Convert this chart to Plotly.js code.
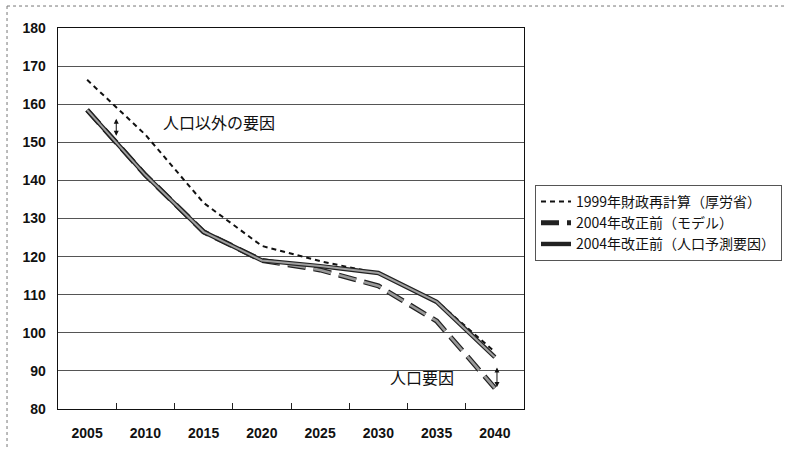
<!DOCTYPE html>
<html>
<head>
<meta charset="utf-8">
<script src="https://cdn.plot.ly/plotly-3.0.1.min.js"></script>
<style>html,body{margin:0;padding:0;background:#fff;}#chart{width:787px;height:450px;}</style>
</head>
<body>
<div id="chart"></div>
<script>
const years = ['2005', '2010', '2015', '2020', '2025', '2030', '2035', '2040'];
const recalc1999 = [166.4, 152.0, 134.1, 122.8, 118.8, 115.6, 108.3, 95.0];
const model2004 = [158.5, 141.4, 126.5, 119.0, 116.5, 112.3, 103.1, 85.5];
const popFactor2004 = [158.5, 141.4, 126.5, 119.0, 117.5, 115.7, 108.1, 93.6];
const seriesNames = ['1999年財政再計算（厚労省）', '2004年改正前（モデル）', '2004年改正前（人口予測要因）'];
const yTicks = [80, 90, 100, 110, 120, 130, 140, 150, 160, 170, 180];

const cjk = '"Noto Sans CJK JP", "Noto Sans", sans-serif';
const num = 'Arial, "Liberation Sans", sans-serif';

const traces = [
  {x: years, y: recalc1999, name: seriesNames[0], type: 'scatter', mode: 'lines',
   line: {color: '#111', width: 2, dash: '5px,4px'}, legendrank: 1},
  {x: years, y: model2004, name: seriesNames[1], type: 'scatter', mode: 'lines',
   line: {color: '#222', width: 5, dash: '18px,8px'}, legendrank: 2},
  {x: years, y: model2004, name: seriesNames[1], type: 'scatter', mode: 'lines', showlegend: false,
   line: {color: '#999', width: 2.6, dash: '18px,8px'}, hoverinfo: 'skip'},
  {x: years, y: popFactor2004, name: seriesNames[2], type: 'scatter', mode: 'lines',
   line: {color: '#222', width: 4.4}, legendrank: 3},
  {x: years, y: popFactor2004, name: seriesNames[2], type: 'scatter', mode: 'lines', showlegend: false,
   line: {color: '#a0a0a0', width: 2}, hoverinfo: 'skip'}
];

const layout = {
  width: 787, height: 450,
  margin: {l: 58, r: 263, t: 28, b: 41, autoexpand: false},
  paper_bgcolor: '#fff', plot_bgcolor: '#fff',
  showlegend: true,
  legend: {
    x: 1.0236, y: 0.588, xanchor: 'left', yanchor: 'top',
    bgcolor: '#fff', bordercolor: '#555', borderwidth: 1,
    font: {family: cjk, size: 14, color: '#111'},
    tracegroupgap: 0
  },
  xaxis: {
    type: 'category', range: [-0.5, 7.5], tickson: 'boundaries',
    ticks: 'inside', ticklen: 6, tickcolor: '#222',
    showline: true, linecolor: '#111', linewidth: 1.3, mirror: true,
    showgrid: false, zeroline: false,
    tickfont: {family: num, size: 14, color: '#111', weight: 'bold'},
    ticklabelstandoff: 11
  },
  yaxis: {
    range: [80, 180], tickvals: yTicks, ticktext: yTicks.map(String),
    showline: true, linecolor: '#111', linewidth: 1.3, mirror: true,
    showgrid: true, gridcolor: '#555', gridwidth: 1, zeroline: false,
    ticks: '', tickfont: {family: num, size: 14, color: '#111', weight: 'bold'},
    ticklabelstandoff: 8
  },
  annotations: [
    {x: 2.264, y: 155.3, xref: 'x', yref: 'y', text: '人口以外の要因', showarrow: false,
     font: {family: cjk, size: 16, color: '#111'}},
    {x: 5.749, y: 88.4, xref: 'x', yref: 'y', text: '人口要因', showarrow: false,
     font: {family: cjk, size: 16, color: '#111'}},
    {x: 0.5, y: 151.7, ax: 0.5, ay: 156.6, xref: 'x', yref: 'y', axref: 'x', ayref: 'y',
     text: '', showarrow: true, arrowside: 'end+start', arrowhead: 2, arrowsize: 1, arrowwidth: 1, arrowcolor: '#111',
     standoff: 0, startstandoff: 0},
    {x: 7.036, y: 85.8, ax: 7.036, ay: 91.3, xref: 'x', yref: 'y', axref: 'x', ayref: 'y',
     text: '', showarrow: true, arrowside: 'end+start', arrowhead: 2, arrowsize: 1, arrowwidth: 1, arrowcolor: '#111',
     standoff: 0, startstandoff: 0}
  ],
  shapes: [
    {type: 'line', xref: 'paper', yref: 'paper', x0: -0.1094, x1: -0.1094, y0: 1.0577, y1: -0.12,
     line: {color: '#777', width: 1, dash: 'dot'}},
    {type: 'line', xref: 'paper', yref: 'paper', x0: -0.1094, x1: 1.58, y0: 1.0577, y1: 1.0577,
     line: {color: '#777', width: 1, dash: 'dot'}}
  ]
};

Plotly.newPlot('chart', traces, layout, {staticPlot: true, displayModeBar: false});
</script>
</body>
</html>
